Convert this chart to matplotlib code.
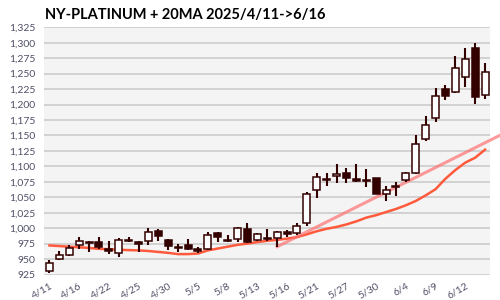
import matplotlib
matplotlib.use("Agg")
import matplotlib.pyplot as plt
from matplotlib.patches import Rectangle
from matplotlib.ticker import FuncFormatter

plt.rcParams['font.family'] = ['Lato', 'DejaVu Sans']

dates = ['4/11', '4/14', '4/15', '4/16', '4/17', '4/21', '4/22', '4/23', '4/24', '4/25',
         '4/28', '4/29', '4/30', '5/1', '5/2', '5/5', '5/6', '5/7', '5/8', '5/9',
         '5/12', '5/13', '5/14', '5/15', '5/16', '5/19', '5/20', '5/21', '5/22', '5/23',
         '5/27', '5/28', '5/29', '5/30', '6/2', '6/3', '6/4', '6/5', '6/6', '6/9',
         '6/10', '6/11', '6/12', '6/13', '6/16']
opens = [931, 950, 957, 972, 977, 977, 966, 959, 980, 977,
         980, 995, 981, 970, 972, 966, 966, 992, 980.5, 982,
         999, 981, 984, 984, 993, 992, 1008, 1062, 1079, 1084,
         1090, 1079, 1077, 1081, 1055, 1066, 1078, 1089, 1144, 1178,
         1225, 1221, 1244, 1291, 1216]
highs = [949, 963, 973, 985, 980, 986, 979, 984, 985, 980,
         1000, 998, 983, 974, 982, 970, 994, 994, 989, 1002,
         1009, 992, 998, 996, 997, 1008, 1059, 1089, 1089, 1104,
         1097, 1103, 1095, 1081, 1068, 1075, 1091, 1151, 1182, 1227,
         1232, 1279, 1291, 1299, 1267]
lows = [928, 949, 955, 966, 961, 967, 958, 953, 978, 962,
        972, 980, 965, 962, 965, 959, 965, 978, 978, 978,
        976, 980, 980, 970, 985, 989, 1004, 1048, 1068, 1073,
        1073, 1074, 1066, 1055, 1044, 1052, 1075, 1087, 1141, 1172,
        1207, 1219, 1229, 1201, 1209]
closes = [943, 957, 968, 979, 977, 969, 964, 981, 980, 975,
          994, 987, 971, 968, 967, 964, 989, 985, 979, 1000,
          977, 990, 982.5, 994, 991.5, 1004, 1055, 1082, 1079, 1088,
          1081, 1075.5, 1077, 1056, 1062, 1069, 1090, 1136, 1167, 1214,
          1214, 1259, 1273, 1213, 1252]
ma20 = [972, 971, 970, 969, 968, 966.5, 966, 965, 964.5, 964,
        963, 961.5, 960, 958, 958, 959, 964, 967, 970, 973,
        975, 977.5, 979.5, 981, 983, 985.5, 990, 995, 999, 1002,
        1006, 1011, 1017, 1021, 1026, 1031, 1037, 1044, 1053, 1063,
        1080, 1094, 1106, 1114, 1127]
# trend line from the 5/15 low, extended past the last day
trend_x = [23, 45.6]
trend_y = [970, 1151]

dark = '#330000'
fig = plt.figure(figsize=(5, 3), dpi=100)
ax = fig.add_axes([0.087, 0.085, 0.893, 0.824])
ax.set_facecolor('#f4f4f4')

for i in range(len(dates)):
    o, h, l, c = opens[i], highs[i], lows[i], closes[i]
    if c > o:
        fc = 'white'
    elif c < o:
        fc = dark
    else:
        fc = '#a08888'
    ax.vlines(i, l, h, color=dark, linewidth=1.5, zorder=3)
    lo = min(o, c)
    hgt = max(abs(c - o), 2.5)
    if hgt == 2.5:
        lo = (o + c) / 2 - 1.25
    ax.add_patch(Rectangle((i - 0.35, lo), 0.7, hgt, facecolor=fc,
                           edgecolor=dark, linewidth=1.1, zorder=4))

ax.plot(range(len(ma20)), ma20, color='#ff5a3c', linewidth=1.8, zorder=2)
ax.plot(trend_x, trend_y, color='#ff7070', alpha=0.7, linewidth=2.2,
        zorder=2, clip_on=False)

ax.set_xlim(-0.6, 44.5)
ax.set_ylim(925, 1325)
ax.set_yticks(range(925, 1326, 25))
ax.yaxis.set_major_formatter(FuncFormatter(lambda v, p: f'{int(v):,}'))
ax.grid(axis='y', color='#c8c8c8', linewidth=1.1)
ax.set_axisbelow(True)
ax.set_xticks(range(0, len(dates), 3))
ax.set_xticklabels(dates[::3], rotation=30, ha='right', rotation_mode='anchor')
ax.tick_params(axis='both', length=0, labelsize=7.5, labelcolor='#505068')
ax.tick_params(axis='y', pad=6)
ax.tick_params(axis='x', pad=5)
for s in ax.spines.values():
    s.set_visible(False)

fig.text(0.09, 0.975, 'NY-PLATINUM + 20MA 2025/4/11->6/16', fontsize=10.5,
         fontweight='bold', va='top', ha='left', color='black')

fig.savefig('out.png', dpi=100)
